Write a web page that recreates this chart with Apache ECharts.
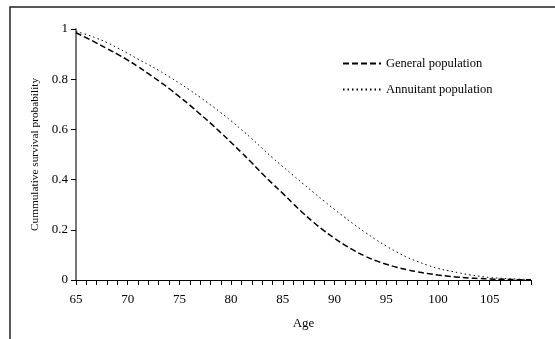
<!DOCTYPE html>
<html>
<head>
<meta charset="utf-8">
<script src="https://cdn.jsdelivr.net/npm/echarts@6/dist/echarts.min.js"></script>
<style>
  html, body { margin: 0; padding: 0; background: #fff; }
  #main { width: 555px; height: 339px; }
</style>
</head>
<body>
<div id="main"></div>
<script>
  // ages 65..109
  var ages = []
  for (var a = 65; a <= 109; a++) ages.push(String(a))

  var generalPop = [
    0.985, 0.965, 0.944, 0.922, 0.900, 0.876, 0.850, 0.822, 0.793, 0.763,
    0.730, 0.697, 0.661, 0.625, 0.587, 0.548, 0.508, 0.467, 0.424, 0.384,
    0.345, 0.304, 0.265, 0.229, 0.196, 0.166, 0.139, 0.115, 0.094, 0.077,
    0.063, 0.051, 0.041, 0.033, 0.026, 0.020, 0.015, 0.011, 0.008, 0.006,
    0.004, 0.003, 0.002, 0.001, 0.001
  ]
  var annuitantPop = [
    0.990, 0.978, 0.963, 0.946, 0.925, 0.903, 0.880, 0.858, 0.835, 0.810,
    0.784, 0.757, 0.728, 0.698, 0.667, 0.634, 0.599, 0.563, 0.525, 0.487,
    0.452, 0.417, 0.382, 0.348, 0.314, 0.281, 0.249, 0.218, 0.189, 0.161,
    0.135, 0.112, 0.091, 0.074, 0.059, 0.046, 0.037, 0.029, 0.021, 0.015,
    0.010, 0.007, 0.005, 0.003, 0.002
  ]

  var serif = "'Liberation Serif', 'Times New Roman', serif"
  var myChart = echarts.init(document.getElementById('main'))
  var option = {
    animation: false,
    textStyle: { fontFamily: serif, color: '#000' },
    graphic: [{
      type: 'rect',
      shape: { x: 10, y: 7, width: 600, height: 400 },
      style: { fill: 'none', stroke: '#222', lineWidth: 1.5 },
      silent: true
    }],
    grid: { left: 76, right: 24, top: 29, bottom: 59 },
    legend: {
      orient: 'vertical',
      left: 337,
      top: 52,
      itemWidth: 38,
      itemHeight: 14,
      itemGap: 13,
      itemStyle: { opacity: 0 },
      textStyle: { fontFamily: serif, fontSize: 12.5, color: '#000' },
      data: ['General population', 'Annuitant population']
    },
    xAxis: {
      type: 'category',
      boundaryGap: false,
      data: ages,
      name: 'Age',
      nameLocation: 'middle',
      nameGap: 37,
      nameTextStyle: { fontFamily: serif, fontSize: 13, color: '#000' },
      axisLine: { lineStyle: { color: '#000', width: 1 } },
      axisTick: { interval: 0, length: 5, lineStyle: { color: '#000' } },
      axisLabel: { interval: 4, margin: 13, fontFamily: serif, fontSize: 13, color: '#000' },
      splitLine: { show: false }
    },
    yAxis: {
      type: 'value',
      min: 0,
      max: 1,
      interval: 0.2,
      name: 'Cummulative survival probability',
      nameLocation: 'middle',
      nameGap: 33,
      nameTextStyle: { fontFamily: serif, fontSize: 11.3, color: '#000' },
      axisLine: { show: true, lineStyle: { color: '#777', width: 2 } },
      axisTick: { show: true, length: 5, lineStyle: { color: '#000' } },
      axisLabel: { margin: 8, fontFamily: serif, fontSize: 13, color: '#000' },
      splitLine: { show: false }
    },
    series: [{
      name: 'General population',
      type: 'line',
      data: generalPop,
      symbol: 'none',
      smooth: true,
      lineStyle: { color: '#000', width: 1.5, type: [6, 3] },
      itemStyle: { color: '#000' }
    }, {
      name: 'Annuitant population',
      type: 'line',
      data: annuitantPop,
      symbol: 'none',
      smooth: true,
      lineStyle: { color: '#000', width: 1, type: [1.5, 3] },
      itemStyle: { color: '#000' }
    }]
  }
  myChart.setOption(option)
</script>
</body>
</html>
